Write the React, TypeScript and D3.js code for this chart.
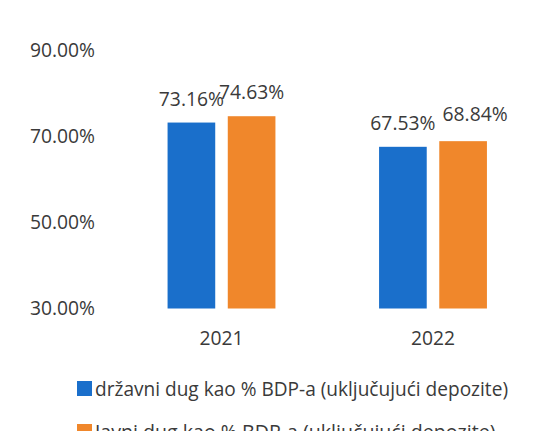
import React from "react";
import * as d3 from "d3";

const years = ["2021", "2022"];
const seriesNames = [
  "državni dug kao % BDP-a (uključujući depozite)",
  "Javni dug kao % BDP-a (uključujući depozite)",
];
const drzavniDug = [73.16, 67.53];
const javniDug = [74.63, 68.84];
const yTicks = [30, 50, 70, 90];
const colors = ["#1A6FCB", "#F0872B"];

const W = 552;
const H = 431;
const FONT = "'Open Sans', 'Noto Sans', sans-serif";
const TEXT = "#3a3a3a";

export default function App() {
  const y = d3.scaleLinear().domain([30, 90]).range([308.5, 50]);
  const x0 = d3
    .scaleBand<string>()
    .domain(years)
    .range([115.75, 538.75])
    .paddingInner(0.49)
    .paddingOuter(0.245);
  const x1 = d3
    .scaleBand<number>()
    .domain([0, 1])
    .range([0, x0.bandwidth()])
    .paddingInner(0.2083);
  const values = [drzavniDug, javniDug];
  const fmt = (v: number) => v.toFixed(2) + "%";

  // label nudges (Excel overlap avoidance)
  const nudge = (s: number, i: number) =>
    s === 1 && i === 1 ? { dx: 12, dy: -3 } : { dx: 0, dy: 0 };

  return (
    <svg
      width={W}
      height={H}
      style={{ position: "absolute", left: 0, top: 0, background: "#fff" }}
      fontFamily={FONT}
    >
      <rect x={0} y={0} width={W} height={H} fill="#fff" />
      {yTicks.map((t) => (
        <text
          key={t}
          x={95}
          y={y(t)}
          dy="0.36em"
          textAnchor="end"
          fontSize={19.3}
          fill={TEXT}
        >
          {t.toFixed(2) + "%"}
        </text>
      ))}
      {years.map((yr, i) => (
        <g key={yr} transform={`translate(${x0(yr)},0)`}>
          {values.map((vals, s) => (
            <rect
              key={s}
              x={x1(s)}
              y={y(vals[i])}
              width={x1.bandwidth()}
              height={y(30) - y(vals[i])}
              fill={colors[s]}
            />
          ))}
          {values.map((vals, s) => {
            const n = nudge(s, i);
            return (
              <text
                key={"l" + s}
                x={(x1(s) as number) + x1.bandwidth() / 2 + n.dx}
                y={y(vals[i]) - 17 + n.dy}
                textAnchor="middle"
                fontSize={19.3}
                fill={TEXT}
              >
                {fmt(vals[i])}
              </text>
            );
          })}
          <text
            x={x0.bandwidth() / 2}
            y={338}
            dy="0.36em"
            textAnchor="middle"
            fontSize={19.3}
            fill={TEXT}
          >
            {yr}
          </text>
        </g>
      ))}
      {seriesNames.map((name, s) => (
        <g key={name} transform={`translate(77,${381 + s * 43})`}>
          <rect x={0} y={0} width={15} height={15} fill={colors[s]} />
          <text
            x={18}
            y={7.5}
            dy="0.36em"
            fontSize={19.6}
            fill={TEXT}
            textLength={s === 0 ? 413 : undefined}
            lengthAdjust="spacingAndGlyphs"
          >
            {name}
          </text>
        </g>
      ))}
    </svg>
  );
}
